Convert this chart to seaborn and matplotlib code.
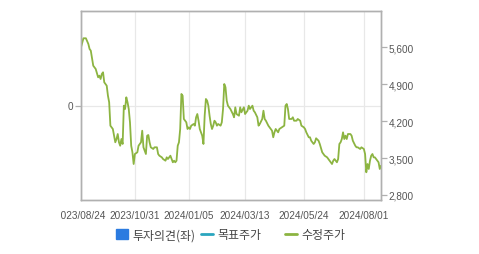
import matplotlib
matplotlib.use("Agg")
import matplotlib.pyplot as plt
import seaborn as sns
import pandas as pd
from matplotlib.lines import Line2D
from matplotlib.patches import Patch
from matplotlib.transforms import Bbox, TransformedBbox

# ---- data ----
day_idx = [0, 2, 4, 6, 7, 8, 10, 11, 12, 14, 15, 16, 17, 18, 19, 21, 22, 23, 24, 26,
           27, 28, 29, 30, 31, 32, 33, 34, 35, 36, 37, 38, 39, 40, 41, 42, 43, 44, 46, 47,
           49, 50, 51, 52, 53, 54, 55, 56, 57, 59, 60, 62, 63, 64, 66, 67, 69, 70, 71, 73,
           74, 75, 76, 77, 78, 79, 80, 81, 82, 83, 84, 85, 86, 87, 88, 89, 90, 92, 93, 94,
           95, 96, 97, 99, 100, 101, 102, 103, 104, 105, 106, 107, 108, 109, 110, 111, 112, 114, 115, 116,
           117, 118, 119, 120, 122, 124, 125, 126, 127, 129, 130, 131, 133, 134, 136, 137, 138, 140, 141, 142,
           144, 145, 146, 148, 149, 150, 151, 153, 155, 156, 157, 158, 159, 161, 162, 164, 166, 167, 168, 169,
           170, 172, 173, 174, 176, 177, 179, 180, 182, 183, 184, 186, 187, 188, 190, 191, 192, 194, 195, 197,
           198, 199, 201, 202, 203, 205, 206, 207, 209, 210, 211, 212, 213, 214, 215, 216, 217, 218, 220, 221,
           222, 224, 225, 226, 228, 229, 231, 232, 233, 234, 235, 236, 237, 238, 239, 240, 241, 242, 243, 244,
           245]
price = [5600, 5771, 5771, 5663, 5568, 5536, 5251, 5221, 5189, 5031, 5062, 4999, 5094, 5126, 4936, 4872, 4682, 4557, 4114, 4051,
         3924, 3799, 3861, 3956, 3799, 3734, 3861, 3767, 4493, 4430, 4652, 4557, 4430, 4178, 3734, 3609, 3387, 3577, 3609, 3734,
         3799, 4019, 3704, 3640, 3577, 3924, 3937, 3799, 3704, 3672, 3704, 3704, 3577, 3545, 3514, 3482, 3450, 3514, 3482, 3545,
         3482, 3420, 3450, 3420, 3450, 3734, 3799, 4051, 4715, 4682, 4241, 4208, 4178, 4051, 4083, 4051, 4114, 4146, 4114, 4273,
         4335, 4208, 4051, 3924, 3767, 4303, 4620, 4588, 4493, 4303, 4146, 4051, 4114, 4208, 4178, 4114, 4146, 4114, 4178, 4430,
         4904, 4842, 4588, 4493, 4430, 4335, 4273, 4462, 4335, 4303, 4462, 4368, 4462, 4335, 4398, 4493, 4430, 4493, 4398, 4368,
         4273, 4114, 4146, 4241, 4398, 4241, 4208, 4114, 4051, 4019, 3894, 3988, 4051, 3988, 4051, 4083, 4114, 4493, 4525, 4430,
         4241, 4241, 4273, 4208, 4208, 4241, 4208, 4114, 4083, 4051, 3988, 3894, 3894, 3829, 3767, 3799, 3875, 3829, 3767, 3609,
         3577, 3545, 3514, 3482, 3450, 3387, 3450, 3482, 3420, 3482, 3767, 3799, 3861, 3988, 3861, 3924, 3861, 3956, 3956, 3924,
         3829, 3734, 3704, 3704, 3672, 3704, 3672, 3577, 3230, 3387, 3293, 3450, 3545, 3577, 3514, 3514, 3482, 3450, 3420, 3293,
         3355]
tick_pos = [0, 44, 88, 134, 182, 231]
tick_labels = ["2023/08/24", "2023/10/31", "2024/01/05", "2024/03/13", "2024/05/24", "2024/08/01"]
right_ticks = [2800, 3500, 4200, 4900, 5600]
legend_labels = ["투자의견(좌)", "목표주가", "수정주가"]

df = pd.DataFrame({"day": day_idx, "price": price})

sns.set_theme(style="white")
plt.rcParams["font.family"] = ["Liberation Sans", "Noto Sans CJK KR", "DejaVu Sans"]

fig = plt.figure(figsize=(4.79, 2.55), dpi=100)
ax = fig.add_axes([81 / 479, 1 - 201 / 255, 300 / 479, 189 / 255])
ax2 = ax.twinx()

spine_c = "#b0b0b0"
grid_c = "#e8e8e8"
text_c = "#555555"
green = "#8cb441"

# left axis (opinion)
ax.set_xlim(0, 245)
ax.set_ylim(-1, 1)
ax.set_yticks([0])
ax.set_yticklabels(["0"])
ax.set_xticks(tick_pos)
ax.set_xticklabels(tick_labels)
ax.grid(True, color=grid_c, linewidth=0.9)
ax.set_axisbelow(True)

sns.lineplot(data=df, x="day", y="price", ax=ax2, color=green, linewidth=1.3)
ax2.set_ylim(2705, 6288)
ax2.set_yticks(right_ticks)
ax2.set_yticklabels([f"{v:,}" for v in right_ticks])
ax2.set_xlim(0, 245)
ax2.set_xlabel("")
ax2.set_ylabel("")
ax.set_xlabel("")
ax.set_ylabel("")

for a in (ax, ax2):
    for s in a.spines.values():
        s.set_color(spine_c)
        s.set_linewidth(1.0)
    a.tick_params(axis="both", colors=spine_c, labelcolor=text_c, labelsize=7.2,
                  length=4, width=0.9, pad=1.5)
ax.tick_params(axis="x", pad=3)

# the reference crops the chart area on the left at about x=61 px
clip = TransformedBbox(Bbox([[61 / 479, 0], [1, 1]]), fig.transFigure)
for lab in ax.get_xticklabels():
    lab.set_clip_on(True)
    lab.set_clip_box(clip)

# legend (three separate entries)
handles = [Patch(facecolor="#2b7be0", edgecolor="#2b7be0"),
           Line2D([0], [0], color="#2aa6bf", linewidth=2),
           Line2D([0], [0], color=green, linewidth=2)]
xpos = [116 / 479, 201 / 479, 285 / 479]
for h, lab, xp in zip(handles, legend_labels, xpos):
    fig.legend(handles=[h], labels=[lab], loc="center left",
               bbox_to_anchor=(xp, 1 - 236 / 255), frameon=False,
               handlelength=1.0, handleheight=0.9, handletextpad=0.35,
               borderpad=0, borderaxespad=0,
               prop={"family": ["Noto Sans CJK KR", "DejaVu Sans"], "size": 8.6},
               labelcolor="#444444")

fig.savefig("out.png", dpi=100)
